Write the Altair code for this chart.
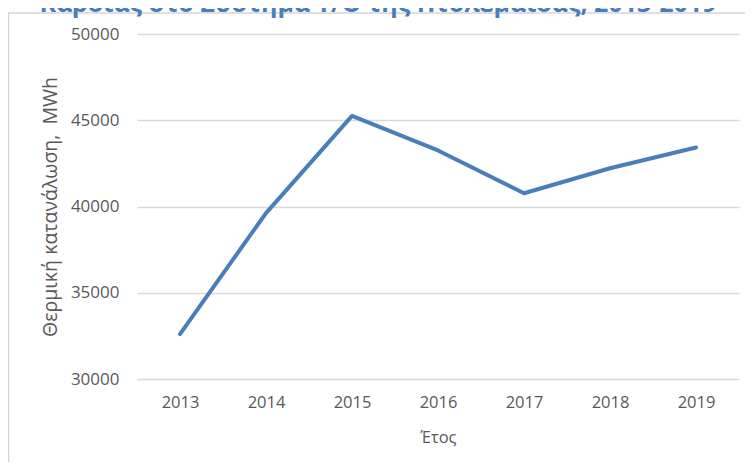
import altair as alt
import pandas as pd

years = ["2013", "2014", "2015", "2016", "2017", "2018", "2019"]
consumption = [32600, 39620, 45250, 43250, 40770, 42220, 43420]
title_text = ["Καρδιάς στο Σύστημα Τ/Θ της Πτολεμαΐδας, 2013-2019"]
y_ticks = [30000, 35000, 40000, 45000, 50000]

df = pd.DataFrame({"Έτος": years, "value": consumption})
df_title = pd.DataFrame({"t": title_text})

FONT = "Open Sans"
GRAY = "#595959"
BLUE = "#4a7ebb"

x_enc = alt.X("Έτος:O", sort=years,
              scale=alt.Scale(type="point", padding=0.5),
              axis=alt.Axis(title="Έτος", labelAngle=0, domain=False, ticks=False,
                            grid=False, labelPadding=15, titlePadding=19,
                            labelFont=FONT, labelFontSize=16.5, labelColor=GRAY,
                            titleFont=FONT, titleFontSize=16.5, titleColor=GRAY,
                            titleFontWeight="normal"))
y_enc = alt.Y("value:Q",
              scale=alt.Scale(domain=[30000, 50000], nice=False, zero=False),
              axis=alt.Axis(title="Θερμική κατανάλωση,\u00a0\u00a0MWh", values=y_ticks,
                            format="d", domain=False, ticks=False, labelPadding=18,
                            gridColor="#d9d9d9", gridWidth=1.3,
                            labelFont=FONT, labelFontSize=17, labelColor=GRAY,
                            titleFont=FONT, titleFontSize=19.5, titleColor=GRAY,
                            titleFontWeight="normal", titlePadding=10))

line = alt.Chart(df).mark_line(color=BLUE, strokeWidth=4, strokeJoin="round",
                               strokeCap="round").encode(x=x_enc, y=y_enc)

title = alt.Chart(df_title).mark_text(font=FONT, fontSize=25, fontWeight="bold",
                                      color="#4a7ebb", align="center",
                                      baseline="alphabetic").encode(
    text="t:N", x=alt.value(241), y=alt.value(-22.5))

border_top = alt.Chart(df_title).mark_rule(color="#d4d4d4", strokeWidth=1.5).encode(
    x=alt.value(-129), x2=alt.value(620), y=alt.value(-21))
border_left = alt.Chart(df_title).mark_rule(color="#d4d4d4", strokeWidth=1.5).encode(
    x=alt.value(-128.5), y=alt.value(-21), y2=alt.value(440))

chart = alt.layer(border_top, border_left, line, title).properties(
    width=602, height=345,
    background="white",
    autosize=alt.AutoSizeParams(type="none"),
    padding={"left": 129, "top": 26, "right": 6, "bottom": 83},
).configure_view(stroke=None)

chart.save("out.html", embed_options={"renderer": "svg", "actions": False})
